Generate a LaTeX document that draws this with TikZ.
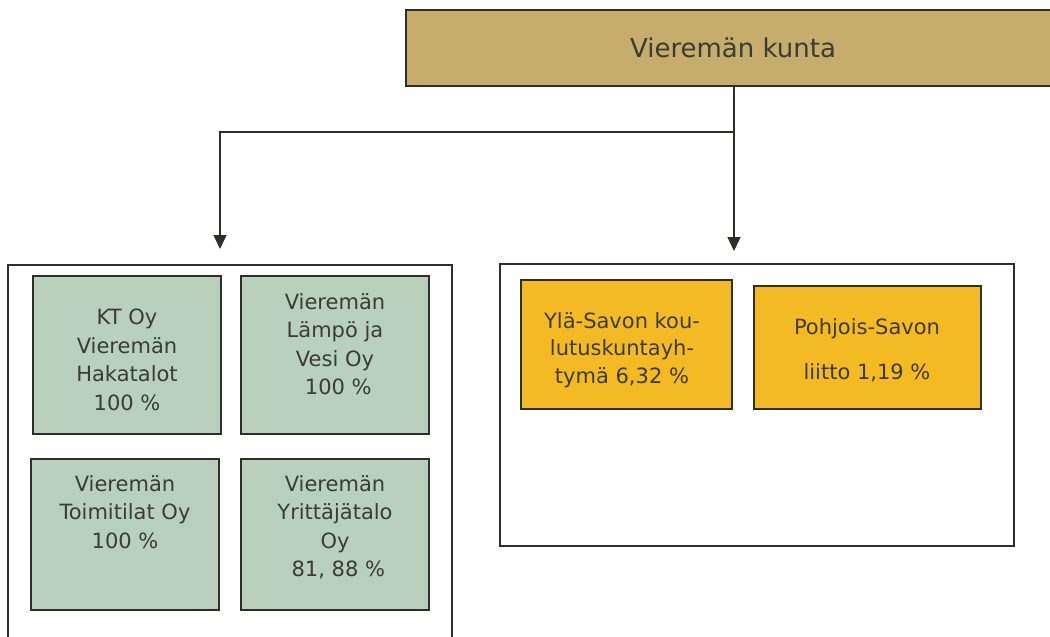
\documentclass[tikz,border=0pt]{standalone}
\usepackage{fontspec}
\setmainfont{DejaVu Sans}
\usetikzlibrary{arrows.meta}
\definecolor{tan}{HTML}{C6AD6B}
\definecolor{sage}{HTML}{B8D0BC}
\definecolor{amber}{HTML}{F4BA24}
\definecolor{edge}{HTML}{2E2E2A}
\definecolor{ink}{HTML}{3C3C32}
\tikzset{
  box/.style={draw=edge, line width=1.8pt, inner sep=0pt, rectangle},
  outer/.style={draw=edge, line width=1.4pt, inner sep=0pt, rectangle, fill=white},
  gbox/.style={box, fill=sage, minimum width=188pt},
  obox/.style={box, fill=amber},
  txt/.style={text=ink, align=center, inner sep=0pt, font=\fontsize{21}{28.5}\selectfont},
  conn/.style={draw=edge, line width=1.4pt},
  tip/.style={-{Triangle[length=14pt,width=13pt]}},
}
\begin{document}
\begin{tikzpicture}[x=1pt,y=-1pt]
\useasboundingbox[fill=white] (0,0) rectangle (1050,637);
% top
\node[box, fill=tan, minimum width=654pt, minimum height=76pt, text=ink,
      font=\fontsize{26}{30}\selectfont] (top) at (733,48) {\raisebox{-2pt}{Vieremän kunta}};
% containers
\node[outer, minimum width=444pt, minimum height=400pt] (lbox) at (230,465) {};
\node[outer, minimum width=514pt, minimum height=282pt] (rbox) at (757,405) {};
% green boxes
\node[gbox, minimum height=158pt] (kt) at (127,355) {};
\node[txt] (ktt) at (127,360) {KT Oy\\Vieremän\\Hakatalot\\100 \%};
\node[gbox, minimum height=158pt] (lv) at (335,355) {};
\node[txt] (lvt) at (335,344) {Vieremän\\Lämpö ja\\Vesi Oy\\\ 100 \%};
\node[gbox, minimum height=151pt] (tt) at (125,534.5) {};
\node[txt] (ttt) at (125,512) {Vieremän\\Toimitilat Oy\\100 \%};
\node[gbox, minimum height=151pt] (yt) at (335,534.5) {};
\node[txt] (ytt) at (335,527) {Vieremän\\Yrittäjätalo\\Oy\\\ 81, 88 \%};
% orange boxes
\node[obox, minimum width=211pt, minimum height=129pt] (ys) at (626.5,344.5) {};
\node[txt, font=\fontsize{21}{27.5}\selectfont] (yst) at (622,350) {Ylä-Savon kou-\\lutuskuntayh-\\tymä 6,32 \%};
\node[obox, minimum width=227pt, minimum height=123pt] (ps) at (867.5,347.5) {};
\node[txt, font=\fontsize{21}{45}\selectfont] (pst) at (867,350) {Pohjois-Savon\\liitto 1,19 \%};
% connectors
\coordinate (j) at (734,132);
\coordinate (la) at (220,249);
\coordinate (ra) at (734,251);
\draw[conn] (top.south -| j) -- (j);
\draw[conn, tip] (j) -- (ra);
\draw[conn, tip] (j) -| (la);
\end{tikzpicture}
\end{document}
